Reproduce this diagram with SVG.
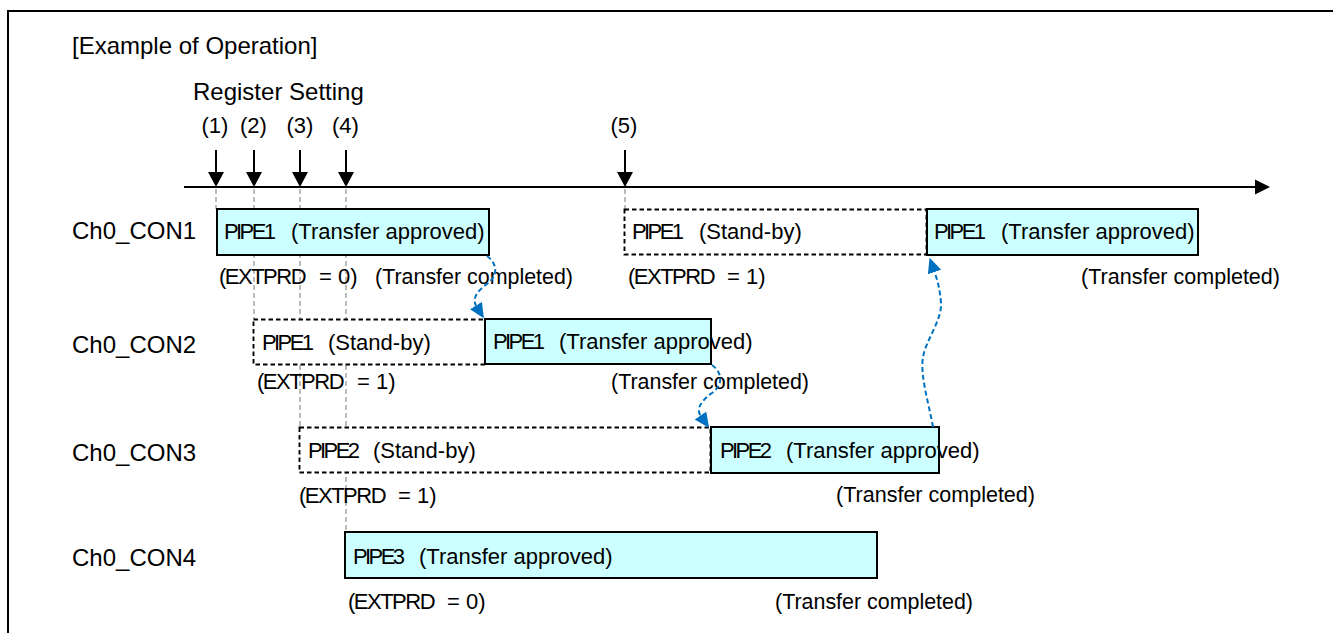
<svg xmlns="http://www.w3.org/2000/svg" width="1333" height="633" viewBox="0 0 1333 633">
<style>
text{font-family:"Liberation Sans",Arial,sans-serif;fill:#000;}
.t{font-size:22px;}
.big{font-size:24px;}
.p{letter-spacing:-2.6px;}
.x{letter-spacing:-1.5px;}
.on{fill:#CCFFFF;stroke:#000;stroke-width:2;}
.sb{fill:#fff;stroke:#000;stroke-width:1.9;stroke-dasharray:4.5 3;}
.guide{stroke:#a6a6a6;stroke-width:1.5;stroke-dasharray:5 3;fill:none;}
.axis{stroke:#000;stroke-width:2;fill:none;}
.flow{stroke:#0070C0;stroke-width:2;stroke-dasharray:5 3;fill:none;marker-end:url(#ba);}
</style>
<defs>
<marker id="ba" markerUnits="userSpaceOnUse" markerWidth="16" markerHeight="14" refX="0" refY="7" orient="auto" viewBox="0 0 16 14">
<path d="M0,0 L15,7 L0,14 z" fill="#0070C0"/>
</marker>
</defs>
<path d="M8,640 V11 H1340" fill="none" stroke="#000" stroke-width="2"/>
<g id="title">
<text class="big" x="72" y="54">[Example of Operation]</text>
<text class="big" x="193" y="100">Register Setting</text>
</g>
<g id="guides">
<line class="guide" x1="216" y1="189" x2="216" y2="209"/>
<line class="guide" x1="254" y1="189" x2="254" y2="319"/>
<line class="guide" x1="300" y1="189" x2="300" y2="427"/>
<line class="guide" x1="346" y1="189" x2="346" y2="532"/>
<line class="guide" x1="625" y1="189" x2="625" y2="209"/>
</g>
<g id="timeline">
<line class="axis" x1="184" y1="187" x2="1258" y2="187"/>
<polygon points="1255,179.5 1270,187 1255,194.5" fill="#000"/>
<g id="step1"><text class="t" x="215" y="133" text-anchor="middle">(1)</text><line class="axis" x1="216" y1="150" x2="216" y2="174"/><polygon points="208,172 224,172 216,187" fill="#000"/></g>
<g id="step2"><text class="t" x="253.5" y="133" text-anchor="middle">(2)</text><line class="axis" x1="254" y1="150" x2="254" y2="174"/><polygon points="246,172 262,172 254,187" fill="#000"/></g>
<g id="step3"><text class="t" x="300" y="133" text-anchor="middle">(3)</text><line class="axis" x1="300" y1="150" x2="300" y2="174"/><polygon points="292,172 308,172 300,187" fill="#000"/></g>
<g id="step4"><text class="t" x="345.5" y="133" text-anchor="middle">(4)</text><line class="axis" x1="346" y1="150" x2="346" y2="174"/><polygon points="338,172 354,172 346,187" fill="#000"/></g>
<g id="step5"><text class="t" x="624" y="133" text-anchor="middle">(5)</text><line class="axis" x1="625" y1="150" x2="625" y2="174"/><polygon points="617,172 633,172 625,187" fill="#000"/></g>
</g>
<g id="labels">
<text class="big" x="72" y="239">Ch0_CON1</text>
<text class="big" x="72" y="353">Ch0_CON2</text>
<text class="big" x="72" y="461">Ch0_CON3</text>
<text class="big" x="72" y="566">Ch0_CON4</text>
</g>
<g id="con1-pipe1-approved">
<rect class="on" x="217" y="209" width="272" height="46"/>
<text class="t" y="239"><tspan class="p" x="224">PIPE1</tspan> <tspan x="291">(Transfer approved)</tspan></text>
</g>
<g id="con1-pipe1-standby">
<rect class="sb" x="624.5" y="209.5" width="302" height="45"/>
<text class="t" y="238.5"><tspan class="p" x="632">PIPE1</tspan> <tspan x="699">(Stand-by)</tspan></text>
</g>
<g id="con1-pipe1-approved-2">
<rect class="on" x="927" y="209" width="271" height="46"/>
<text class="t" y="239"><tspan class="p" x="934">PIPE1</tspan> <tspan x="1001">(Transfer approved)</tspan></text>
</g>
<g id="con2-pipe1-standby">
<rect class="sb" x="253.5" y="319.5" width="232" height="45"/>
<text class="t" y="349.5"><tspan class="p" x="262">PIPE1</tspan> <tspan x="328">(Stand-by)</tspan></text>
</g>
<g id="con2-pipe1-approved">
<rect class="on" x="485" y="319" width="226" height="45"/>
<text class="t" y="348.5"><tspan class="p" x="493">PIPE1</tspan> <tspan x="559">(Transfer approved)</tspan></text>
</g>
<g id="con3-pipe2-standby">
<rect class="sb" x="299.5" y="427.5" width="411" height="45"/>
<text class="t" y="457.5"><tspan class="p" x="308">PIPE2</tspan> <tspan x="373">(Stand-by)</tspan></text>
</g>
<g id="con3-pipe2-approved">
<rect class="on" x="711" y="427" width="228" height="46"/>
<text class="t" y="457.5"><tspan class="p" x="720">PIPE2</tspan> <tspan x="786">(Transfer approved)</tspan></text>
</g>
<g id="con4-pipe3-approved">
<rect class="on" x="345" y="532" width="532" height="46"/>
<text class="t" y="564"><tspan class="p" x="353">PIPE3</tspan> <tspan x="419">(Transfer approved)</tspan></text>
</g>
<g id="annotations">
<text class="t" y="283.5"><tspan class="x" x="219">(EXTPRD</tspan> <tspan x="319">= 0)</tspan></text>
<text class="t" x="375" y="284" textLength="198" lengthAdjust="spacingAndGlyphs">(Transfer completed)</text>
<text class="t" y="283.5"><tspan class="x" x="628">(EXTPRD</tspan> <tspan x="727">= 1)</tspan></text>
<text class="t" x="1081" y="283.5" textLength="199" lengthAdjust="spacingAndGlyphs">(Transfer completed)</text>
<text class="t" y="389"><tspan class="x" x="257">(EXTPRD</tspan> <tspan x="357">= 1)</tspan></text>
<text class="t" x="611" y="388.5" textLength="198" lengthAdjust="spacingAndGlyphs">(Transfer completed)</text>
<text class="t" y="503"><tspan class="x" x="299">(EXTPRD</tspan> <tspan x="398">= 1)</tspan></text>
<text class="t" x="836" y="502" textLength="199" lengthAdjust="spacingAndGlyphs">(Transfer completed)</text>
<text class="t" y="609"><tspan class="x" x="348">(EXTPRD</tspan> <tspan x="447">= 0)</tspan></text>
<text class="t" x="775" y="608.5" textLength="198" lengthAdjust="spacingAndGlyphs">(Transfer completed)</text>
</g>
<g id="connectors">
<path class="flow" d="M487,256 C498,264 498,276 487,284 C477,291 472,299 476,305.5"/>
<path class="flow" d="M712,365 C723,373 723,385 712,393 C701,401 696,409 700.5,415.5"/>
<path class="flow" d="M933,427 C928,400 920,375 923,357 C926,340 942,320 941,303 C940,290 938,282 934.5,272"/>
</g>
</svg>
